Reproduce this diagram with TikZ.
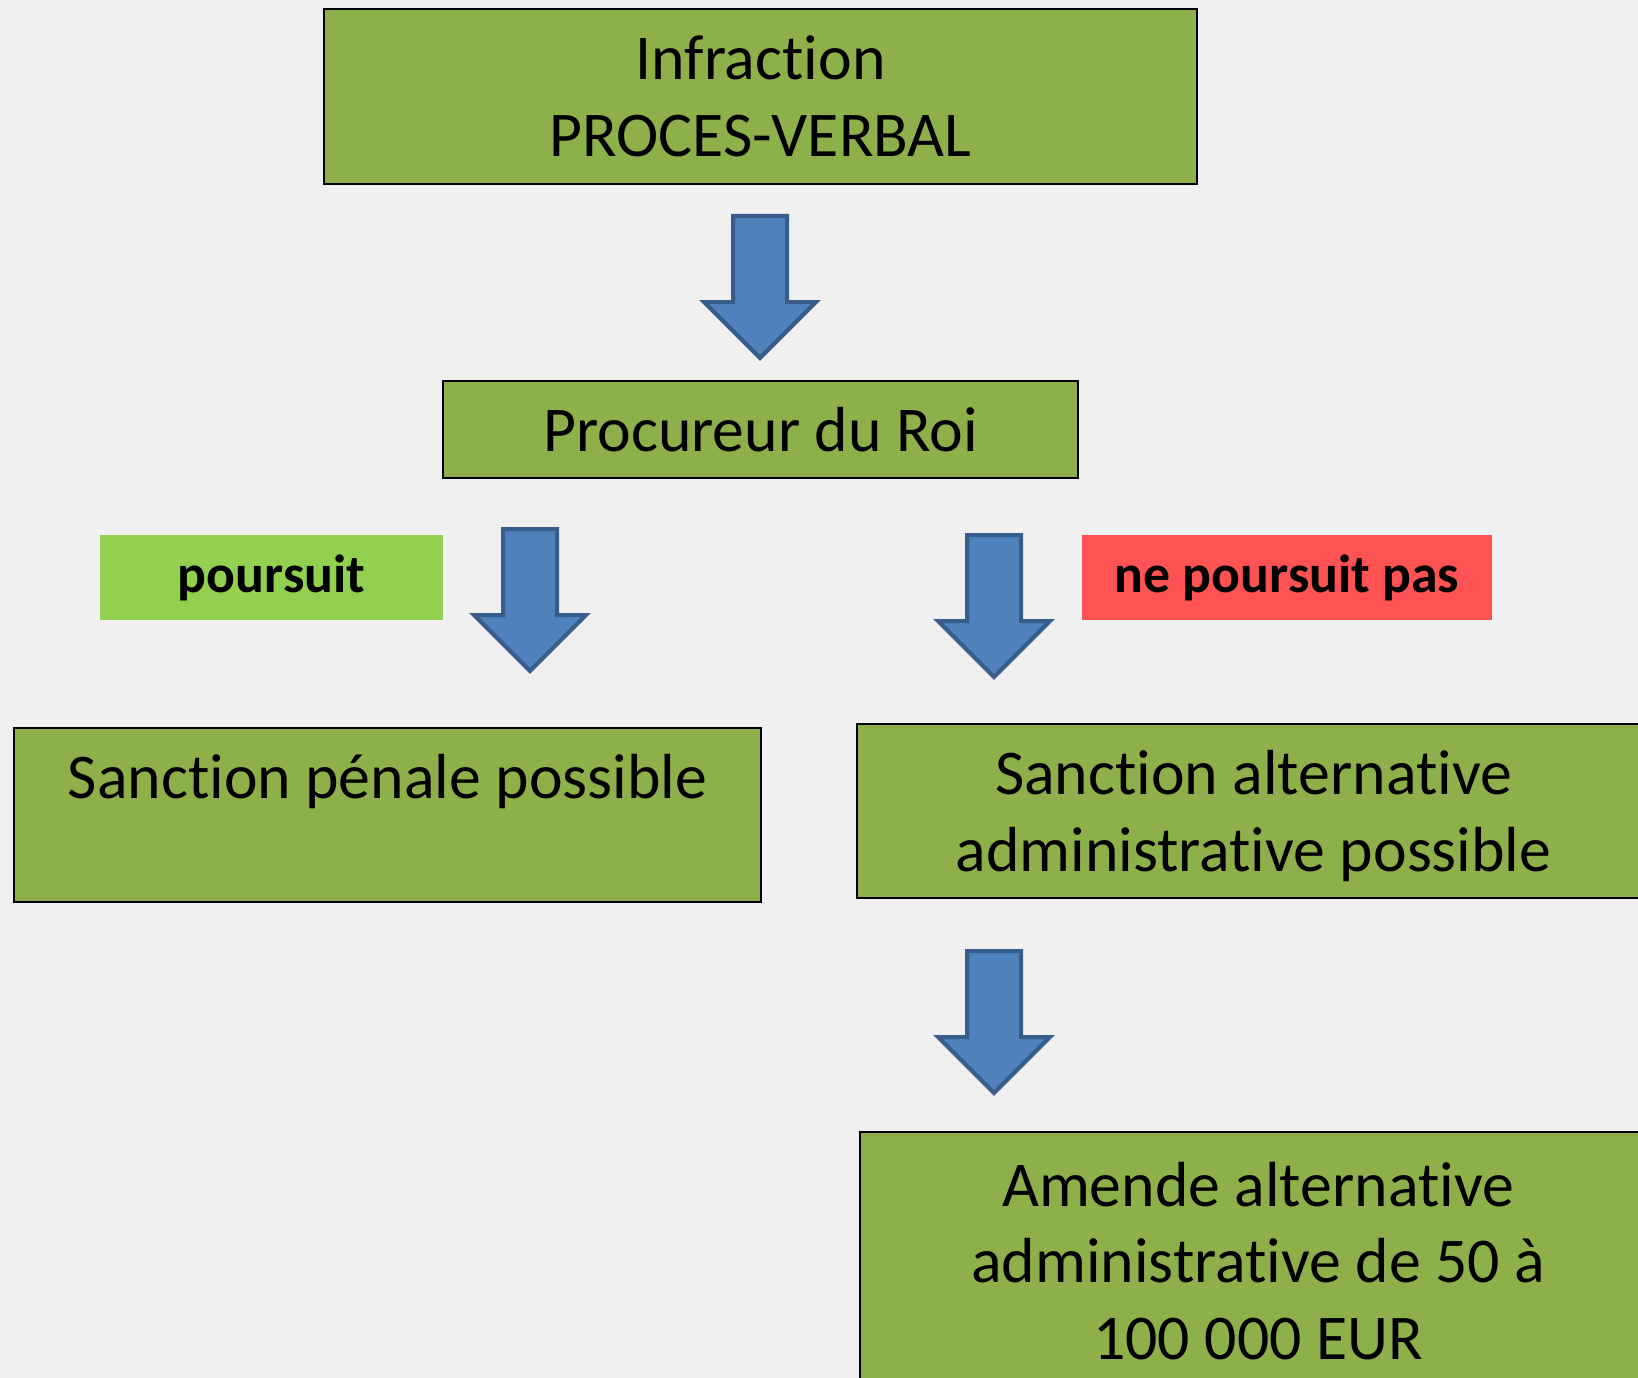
\documentclass[tikz,border=0pt]{standalone}
\usepackage{fontspec}
\setmainfont{Carlito}[Ligatures=NoCommon]
\usepackage{tikz}
\definecolor{pvback}{RGB}{240,240,240}
\definecolor{pvolive}{RGB}{142,176,74}
\definecolor{pvlime}{RGB}{146,208,80}
\definecolor{pvred}{RGB}{255,82,82}
\definecolor{pvblue}{RGB}{79,129,189}
\definecolor{pvdark}{RGB}{56,93,138}
\begin{document}
\begin{tikzpicture}[x=1bp, y=-1bp,
    box/.style={draw=black, line width=1.5bp, fill=pvolive, inner sep=0pt,
      align=center, font=\fontsize{64}{77}\selectfont},
    tag/.style={inner sep=0pt, font=\fontsize{54}{60}\selectfont\bfseries},
    pics/downarrow/.style={code={%
      \draw[pvdark, line width=4bp, fill=pvblue, line join=miter] %
        (-27,0) -- (27,0) -- (27,86) -- (56,86) -- (0,142) -- (-56,86) -- (-27,86) -- cycle;
    }}]
  \useasboundingbox[fill=pvback] (0,0) rectangle (1638,1378);
  \node[box, minimum width=873bp, minimum height=175bp] (infraction) at (760.5,96.5)
    {Infraction\\PROCES-VERBAL};
  \pic at (760,216) {downarrow};
  \node[box, minimum width=635bp, minimum height=97bp] (procureur) at (760.5,429.5)
    {Procureur du Roi};
  \node[tag, fill=pvlime, minimum width=343bp, minimum height=85bp] (poursuit) at (271.5,577.5)
    {poursuit};
  \node[tag, fill=pvred, minimum width=410bp, minimum height=85bp] (nepas) at (1287,577.5)
    {ne poursuit pas};
  \pic at (530,529) {downarrow};
  \pic at (994,535) {downarrow};
  \node[box, text depth=0pt, minimum width=747bp, minimum height=174bp] (penale) at (387.5,815)
    {Sanction pénale possible\\\phantom{p}};
  \node[box, text depth=0pt, minimum width=793bp, minimum height=174bp] (alternative) at (1253.5,811)
    {Sanction alternative\\administrative possible};
  \pic at (994,951) {downarrow};
  \node[box, minimum width=796bp, minimum height=258bp] (amende) at (1258,1261)
    {Amende alternative\\administrative de 50 à\\100 000 EUR};
\end{tikzpicture}
\end{document}
